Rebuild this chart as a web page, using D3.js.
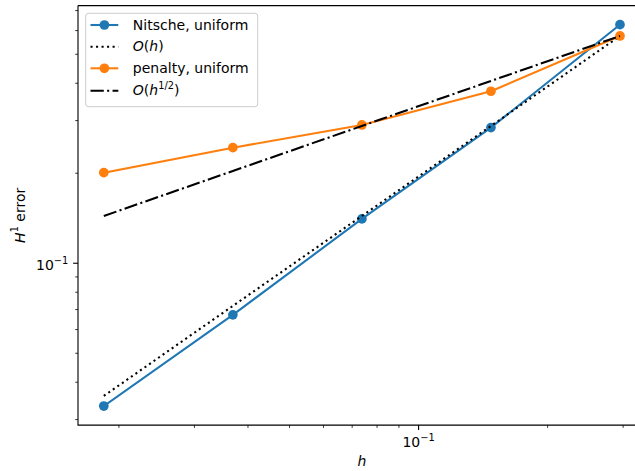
<!DOCTYPE html>
<html><head><meta charset="utf-8">
<script src="https://cdn.jsdelivr.net/npm/d3@7"></script>
<style>
body{margin:0;background:#fff;}
svg{display:block;font-family:"DejaVu Sans",sans-serif;}
</style></head>
<body>
<svg id="c" width="635" height="471"></svg>
<script>
// ---- data ----
const h = [0.01844, 0.03688, 0.07375, 0.1475, 0.295];
const nitsche = [0.0333, 0.0672, 0.1407, 0.2843, 0.628];
const penalty = [0.2009, 0.2435, 0.2901, 0.376, 0.5757];
const orderH = [0.0360, 0.0720, 0.1439, 0.2878, 0.5757];
const orderHalf = [0.1439, 0.2035, 0.2879, 0.4071, 0.5757];
const xMinorTicks = [0.02,0.03,0.04,0.05,0.06,0.07,0.08,0.09,0.2,0.3,0.4,0.5,0.6,0.7,0.8,0.9];
const yMinorTicks = [0.03,0.04,0.05,0.06,0.07,0.08,0.09,0.2,0.3,0.4,0.5,0.6,0.7,0.8,0.9];
const majorTicks = [0.1];
const legendLabels = ["Nitsche, uniform","O(h)","penalty, uniform","O(h^1/2)"];

const svg = d3.select("#c");
const L = 78, R = 645.8, T = 5.6, B = 425.1;
const BLUE = "#1f77b4", ORANGE = "#ff7f0e";
const FS = 14;

function logExt(vals){
  const lo = Math.log10(d3.min(vals)), hi = Math.log10(d3.max(vals));
  const m = (hi-lo)*0.05;
  return [Math.pow(10,lo-m), Math.pow(10,hi+m)];
}
const x = d3.scaleLog().domain(logExt(h)).range([L,R]);
const y = d3.scaleLog().domain(logExt([...nitsche,...penalty,...orderH,...orderHalf])).range([B,T]);

svg.append("defs").append("clipPath").attr("id","ax")
  .append("rect").attr("x",L).attr("y",T).attr("width",R-L).attr("height",B-T);

const line = d3.line().x(d=>x(d[0])).y(d=>y(d[1]));
const g = svg.append("g").attr("clip-path","url(#ax)");

const series = [
  {vals:nitsche, color:BLUE, dash:null, marker:true},
  {vals:orderH, color:"#000", dash:"2.08,3.44", marker:false},
  {vals:penalty, color:ORANGE, dash:null, marker:true},
  {vals:orderHalf, color:"#000", dash:"13.3,3.33,2.08,3.33", marker:false}
];
series.forEach(s=>{
  const pts = h.map((hv,i)=>[hv,s.vals[i]]);
  g.append("path").attr("d",line(pts)).attr("fill","none")
    .attr("stroke",s.color).attr("stroke-width",2.08)
    .attr("stroke-dasharray",s.dash).attr("stroke-linecap",s.dash?"butt":"square")
    .attr("stroke-linejoin","round");
  if(s.marker){
    g.selectAll(null).data(pts).enter().append("circle")
      .attr("cx",d=>x(d[0])).attr("cy",d=>y(d[1])).attr("r",4.85).attr("fill",s.color);
  }
});

// axes spines (left, bottom, top; right is beyond the frame)
const ax = svg.append("g").attr("stroke","#000").attr("stroke-width",1.11).attr("fill","none");
ax.append("path").attr("d",`M${L},${T}V${B}H${R}`);
ax.append("path").attr("d",`M${L},${T}H${R}V${B}`);

// ticks
const tk = svg.append("g").attr("stroke","#000").attr("stroke-width",0.8);
xMinorTicks.filter(v=>x(v)>L&&x(v)<R).forEach(v=>{
  tk.append("line").attr("x1",x(v)).attr("x2",x(v)).attr("y1",B).attr("y2",B+2.78);
});
yMinorTicks.filter(v=>y(v)>T&&y(v)<B).forEach(v=>{
  tk.append("line").attr("y1",y(v)).attr("y2",y(v)).attr("x1",L).attr("x2",L-2.78);
});
majorTicks.forEach(v=>{
  tk.append("line").attr("x1",x(v)).attr("x2",x(v)).attr("y1",B).attr("y2",B+4.86).attr("stroke-width",1.11);
  tk.append("line").attr("y1",y(v)).attr("y2",y(v)).attr("x1",L).attr("x2",L-4.86).attr("stroke-width",1.11);
});

function powLabel(sel, exp){
  sel.append("tspan").text("10");
  sel.append("tspan").attr("dy",-6.4).attr("font-size",9.8).text(exp);
}
majorTicks.forEach(v=>{
  const e = "\u2212" + Math.round(-Math.log10(v));
  const tx = svg.append("text").attr("x",x(v)).attr("y",447).attr("text-anchor","middle")
    .attr("font-size",FS).attr("fill","#000");
  powLabel(tx,e);
  const ty = svg.append("text").attr("x",L-9.7).attr("y",y(v)+7).attr("text-anchor","end")
    .attr("font-size",FS).attr("fill","#000");
  powLabel(ty,e);
});

// axis labels
svg.append("text").attr("x",(L+R)/2).attr("y",466).attr("text-anchor","middle")
  .attr("font-size",FS).attr("font-style","italic").text("h");
const yl = svg.append("text").attr("transform",`translate(24.5,${(T+B)/2}) rotate(-90)`)
  .attr("text-anchor","middle").attr("font-size",FS);
yl.append("tspan").attr("font-style","italic").text("H");
yl.append("tspan").attr("dy",-6.4).attr("font-size",9.8).text("1");
yl.append("tspan").attr("dy",6.4).text(" error");

// legend
const lg = svg.append("g");
lg.append("rect").attr("x",85.7).attr("y",13.3).attr("width",172).attr("height",93.4)
  .attr("rx",2.8).attr("fill","#fff").attr("fill-opacity",0.8).attr("stroke","#cccccc").attr("stroke-width",1);
const rowY = [25, 46.7, 68.3, 90.7];
series.forEach((s,i)=>{
  const yy = rowY[i];
  lg.append("line").attr("x1",90.5).attr("x2",118.3).attr("y1",yy).attr("y2",yy)
    .attr("stroke",s.color).attr("stroke-width",2.08).attr("stroke-dasharray",s.dash);
  if(s.marker) lg.append("circle").attr("cx",104.4).attr("cy",yy).attr("r",4.85).attr("fill",s.color);
  const t = lg.append("text").attr("x",132.8).attr("y",yy+4.6).attr("font-size",FS);
  const lab = legendLabels[i];
  if(lab==="O(h)"){
    t.append("tspan").attr("font-style","italic").text("O");
    t.append("tspan").text("(");
    t.append("tspan").attr("font-style","italic").text("h");
    t.append("tspan").text(")");
  } else if(lab==="O(h^1/2)"){
    t.append("tspan").attr("font-style","italic").text("O");
    t.append("tspan").text("(");
    t.append("tspan").attr("font-style","italic").text("h");
    t.append("tspan").attr("dy",-6.4).attr("font-size",9.8).text("1/2");
    t.append("tspan").attr("dy",6.4).text(")");
  } else t.text(lab);
});
</script>
</body></html>
